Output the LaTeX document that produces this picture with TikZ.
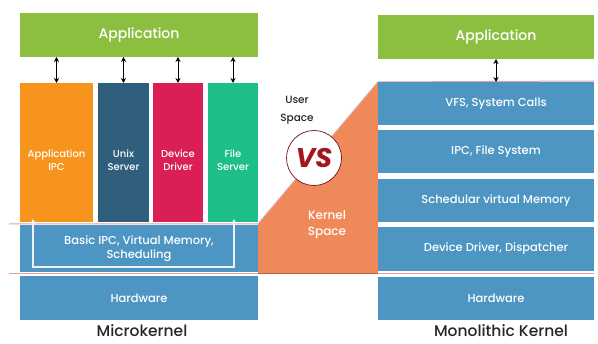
\documentclass[tikz,border=0pt]{standalone}
\usepackage{fontspec}
\setmainfont{Poppins}[UprightFont={* Medium}, BoldFont={* Bold}, BoldItalicFont={* Bold Italic}]
\usetikzlibrary{arrows.meta}
\definecolor{appgreen}{HTML}{8CBF3F}
\definecolor{colorange}{HTML}{F7941D}
\definecolor{coldblue}{HTML}{2F5F7D}
\definecolor{colred}{HTML}{D91F56}
\definecolor{colteal}{HTML}{1DBE8A}
\definecolor{layblue}{HTML}{4D95C2}
\definecolor{kernorange}{HTML}{F0895A}
\definecolor{kernline}{HTML}{E2A49A}
\definecolor{vsred}{HTML}{A3151F}
\tikzset{
  blk/.style={inner sep=0pt, outer sep=0pt, anchor=north west, text=white, align=center, font=\fontsize{11.5}{14}\selectfont},
  appbox/.style={blk, fill=appgreen, font=\fontsize{14}{16}\selectfont},
  laybox/.style={blk, fill=layblue},
  lbl/.style={text=white, align=center, font=\fontsize{11.5}{14}\selectfont, inner sep=0pt},
  collbl/.style={lbl, font=\fontsize{10}{12.5}\selectfont},
  dblarrow/.style={{Stealth[length=5pt,width=5pt]}-{Stealth[length=5pt,width=5pt]}, line width=0.8pt, black},
  warrow/.style={{Stealth[length=5pt,width=5pt]}-{Stealth[length=5pt,width=5pt]}, line width=1.1pt, white!90!layblue},
  kline/.style={kernline, line width=1pt},
  title/.style={text=black!85, font=\fontsize{15.5}{17}\selectfont, inner sep=0pt}
}
\begin{document}
\begin{tikzpicture}[x=1pt,y=-1pt]
\useasboundingbox (0,0) rectangle (598,344);
% kernel space region
\coordinate (k1) at (258,224);
\coordinate (k2) at (378,82);
\coordinate (k3) at (378,273);
\coordinate (k4) at (258,273);
\fill[kernorange] (k1) -- (k2) -- (k3) -- (k4) -- cycle;
\coordinate (ka) at (9,224);
\coordinate (kb) at (594,81);
\coordinate (kc) at (9,273.5);
\coordinate (kd) at (594,273.5);
\draw[kline] (ka) -- (k1) -- (k2) -- (kb);
\draw[kline] (kc) -- (kd);
\draw[kernorange!75!black, line width=0.6pt] (k4) -- (k3);

% Microkernel
\node[appbox, minimum width=238pt, minimum height=44pt] (appL) at (20,13) {Application};
\node[blk, fill=colorange, minimum width=73pt, minimum height=139pt] (c1) at (20,83) {};
\node[blk, fill=coldblue, minimum width=51pt, minimum height=139pt] (c2) at (98,83) {};
\node[blk, fill=colred, minimum width=50pt, minimum height=139pt] (c3) at (153,83) {};
\node[blk, fill=colteal, minimum width=50pt, minimum height=139pt] (c4) at (208,83) {};
\node[collbl] (tc1) at ([yshift=-7.5pt]c1.center) {Application\\IPC};
\node[collbl] (tc2) at ([yshift=-7.5pt]c2.center) {Unix\\Server};
\node[collbl] (tc3) at ([yshift=-7.5pt]c3.center) {Device\\Driver};
\node[collbl] (tc4) at ([yshift=-7.5pt]c4.center) {File\\Server};
\node[laybox, minimum width=238pt, minimum height=47pt] (basic) at (20,225) {Basic IPC, Virtual Memory,\\Scheduling};
\node[laybox, minimum width=238pt, minimum height=44pt] (hwL) at (20,276) {Hardware};
\foreach \c in {c1,c2,c3,c4}{
  \draw[dblarrow] (\c.north) -- (\c.north |- appL.south);
}
\coordinate (wtl) at (33,219);
\coordinate (wbl) at (33,267);
\coordinate (wbr) at (234,267);
\coordinate (wtr) at (234,219);
\draw[warrow] (wtl) -- (wbl) -- (wbr) -- (wtr);
\node[title] (mk) at (142,331) {Microkernel};

% Monolithic
\node[appbox, minimum width=216pt, minimum height=44pt] (appR) at (378,15) {};
\node[laybox, minimum width=216pt, minimum height=43pt] (vfs) at (378,82) {};
\node[laybox, minimum width=216pt, minimum height=43pt] (ipc) at (378,130) {};
\node[laybox, minimum width=216pt, minimum height=43pt] (sch) at (378,179) {};
\node[laybox, minimum width=216pt, minimum height=44pt] (dd) at (378,227) {};
\node[laybox, minimum width=216pt, minimum height=43pt] (hwR) at (378,277) {};
\node[lbl, font=\fontsize{14}{16}\selectfont] (tappR) at ([xshift=10pt]appR.center) {Application};
\node[lbl] (tvfs) at ([xshift=10pt]vfs.center) {VFS, System Calls};
\node[lbl] (tipc) at ([xshift=10pt]ipc.center) {IPC, File System};
\node[lbl] (tsch) at ([xshift=10pt]sch.center) {Schedular virtual Memory};
\node[lbl] (tdd) at ([xshift=10pt]dd.center) {Device Driver, Dispatcher};
\node[lbl] (thwR) at ([xshift=10pt]hwR.center) {Hardware};
\draw[dblarrow] (appR.south -| tappR) -- (vfs.north -| tappR);
\node[title] (mono) at (501,331) {Monolithic Kernel};

% middle labels
\node[text=black!85, align=center, font=\fontsize{10.5}{18}\selectfont, inner sep=0pt] (user) at (297,110) {User\\Space};
\node[text=white, align=center, font=\fontsize{12}{16}\selectfont, inner sep=0pt] (kern) at (327,225) {Kernel\\Space};
\node[circle, fill=white, draw=vsred!70!black, line width=0.7pt, minimum size=55pt, inner sep=0pt, text=vsred, font=\fontsize{27}{27}\selectfont\bfseries\itshape] (vs) at (314,158) {VS};
\end{tikzpicture}
\end{document}
